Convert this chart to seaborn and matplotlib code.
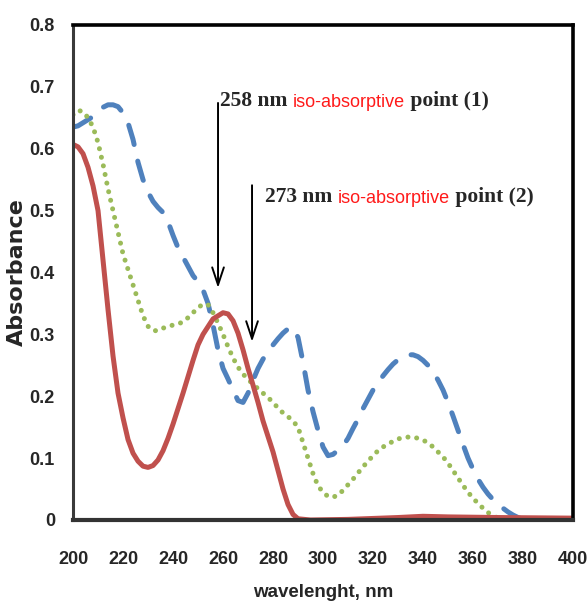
import matplotlib
matplotlib.use("Agg")
import matplotlib.pyplot as plt
import seaborn as sns

# wavelength grids (nm) and absorbance
red_wl = [200, 202, 204, 206, 208, 210, 212, 214, 216, 218, 220, 222, 224, 226, 228,
          230, 232, 234, 236, 238, 240, 244, 248, 250, 252, 256, 260, 262, 264, 266,
          268, 270, 272, 274, 276, 278, 280, 282, 284, 286, 288, 290, 295, 310, 330,
          340, 350, 370, 400]
red_abs = [0.607, 0.603, 0.592, 0.570, 0.540, 0.500, 0.420, 0.340, 0.265, 0.205, 0.165,
           0.130, 0.108, 0.095, 0.087, 0.085, 0.088, 0.097, 0.112, 0.132, 0.155, 0.205,
           0.258, 0.283, 0.300, 0.325, 0.335, 0.333, 0.322, 0.302, 0.275, 0.245, 0.218,
           0.190, 0.160, 0.135, 0.110, 0.080, 0.050, 0.025, 0.009, 0.002, 0.000, 0.001,
           0.004, 0.006, 0.005, 0.004, 0.003]

blue_wl = [200, 202, 204, 206, 208, 210, 212, 214, 216, 218, 220, 222, 224, 226, 228,
           230, 232, 234, 236, 238, 240, 242, 244, 246, 248, 250, 252, 254, 256, 258,
           260, 262, 264, 266, 268, 270, 272, 274, 276, 278, 280, 282, 284, 286, 288,
           290, 292, 294, 296, 298, 300, 302, 304, 306, 308, 310, 312, 314, 316, 318,
           320, 322, 324, 326, 328, 330, 332, 334, 336, 338, 340, 342, 344, 346, 348,
           350, 352, 354, 356, 358, 360, 362, 364, 366, 368, 370, 372, 374, 376, 378, 380]
blue_abs = [0.635, 0.637, 0.642, 0.647, 0.652, 0.660, 0.667, 0.671, 0.671, 0.668, 0.658,
            0.642, 0.615, 0.578, 0.550, 0.530, 0.515, 0.505, 0.497, 0.482, 0.460, 0.440,
            0.425, 0.410, 0.395, 0.385, 0.372, 0.350, 0.315, 0.275, 0.245, 0.228, 0.210,
            0.193, 0.190, 0.205, 0.226, 0.245, 0.260, 0.272, 0.283, 0.293, 0.302, 0.309,
            0.311, 0.295, 0.255, 0.210, 0.175, 0.145, 0.118, 0.104, 0.106, 0.113, 0.120,
            0.132, 0.148, 0.163, 0.180, 0.195, 0.210, 0.222, 0.233, 0.243, 0.252, 0.259,
            0.264, 0.267, 0.267, 0.264, 0.258, 0.250, 0.240, 0.226, 0.210, 0.190, 0.168,
            0.145, 0.122, 0.100, 0.082, 0.066, 0.053, 0.042, 0.033, 0.026, 0.019, 0.013,
            0.008, 0.004, 0.001]

green_wl = [200, 202, 204, 206, 208, 210, 212, 214, 216, 218, 220, 222, 224, 226, 228,
            230, 232, 234, 236, 238, 240, 242, 244, 246, 248, 250, 252, 254, 256, 258,
            260, 262, 264, 266, 268, 270, 272, 274, 276, 278, 280, 282, 284, 286, 288,
            290, 292, 294, 296, 298, 300, 302, 304, 306, 308, 310, 312, 314, 316, 318,
            320, 322, 324, 326, 328, 330, 332, 334, 336, 338, 340, 342, 344, 346, 348,
            350, 352, 354, 356, 358, 360, 362, 364, 366, 368, 370, 372]
green_abs = [0.655, 0.662, 0.660, 0.650, 0.635, 0.610, 0.575, 0.535, 0.500, 0.465, 0.430,
             0.405, 0.380, 0.355, 0.330, 0.313, 0.306, 0.306, 0.310, 0.313, 0.315, 0.317,
             0.320, 0.327, 0.335, 0.343, 0.349, 0.348, 0.335, 0.318, 0.300, 0.280, 0.262,
             0.247, 0.236, 0.227, 0.220, 0.212, 0.205, 0.198, 0.190, 0.181, 0.173, 0.167,
             0.160, 0.150, 0.125, 0.100, 0.075, 0.055, 0.045, 0.038, 0.037, 0.040, 0.048,
             0.057, 0.066, 0.076, 0.086, 0.095, 0.104, 0.112, 0.118, 0.123, 0.127, 0.131,
             0.133, 0.134, 0.134, 0.132, 0.129, 0.125, 0.118, 0.110, 0.102, 0.092, 0.080,
             0.068, 0.056, 0.045, 0.035, 0.027, 0.019, 0.012, 0.007, 0.003, 0.000]

x_ticks = [200, 220, 240, 260, 280, 300, 320, 340, 360, 380, 400]
y_ticks = [0, 0.1, 0.2, 0.3, 0.4, 0.5, 0.6, 0.7, 0.8]
y_tick_labels = ["0", "0.1", "0.2", "0.3", "0.4", "0.5", "0.6", "0.7", "0.8"]

# iso-absorptive points: (label, tail, wavelength, arrow top, arrow tip)
iso_points = [("258 nm", "point (1)", 258, 0.674, 0.375),
              ("273 nm", "point (2)", 271.6, 0.541, 0.288)]

SANS = ["Liberation Sans", "DejaVu Sans"]
SERIF = ["Liberation Serif", "DejaVu Serif"]

sns.set_style("white")

fig = plt.figure(figsize=(5.87, 6.05), dpi=100)
ax = fig.add_axes([0.1244, 0.1405, 0.8518, 0.8182])

sns.lineplot(x=blue_wl, y=blue_abs, ax=ax, color="#4F81BD", linewidth=3.6,
             linestyle=(0, (4.0, 3.4)), dash_capstyle="round", sort=False)
sns.lineplot(x=green_wl, y=green_abs, ax=ax, color="#9BBB59", linewidth=3.6,
             linestyle=(0, (0.01, 1.75)), dash_capstyle="round", sort=False)
sns.lineplot(x=red_wl, y=red_abs, ax=ax, color="#C0504D", linewidth=3.6,
             solid_capstyle="round", sort=False)

ax.set_xlim(200, 400)
ax.set_ylim(0, 0.8)
ax.set_xticks(x_ticks)
ax.set_xticklabels([str(t) for t in x_ticks], family=SANS, fontweight="bold", fontsize=13)
ax.set_yticks(y_ticks)
ax.set_yticklabels(y_tick_labels, family=SANS, fontweight="bold", fontsize=13)
ax.tick_params(axis="x", direction="in", length=7, width=1.2, color="#b0b0b0", pad=22)
ax.tick_params(axis="y", direction="in", length=3, width=1.2, color="#b0b0b0", pad=13)

for side in ["top", "right"]:
    ax.spines[side].set_color("black")
    ax.spines[side].set_linewidth(2.6)
ax.spines["left"].set_color("#3a3a3a")
ax.spines["left"].set_linewidth(2.2)
ax.spines["bottom"].set_color("#333333")
ax.spines["bottom"].set_linewidth(3.0)

ax.set_xlabel("wavelenght, nm", family=SANS, fontweight="bold", fontsize=13.5)
ax.set_ylabel("Absorbance", family="DejaVu Sans", fontweight="bold", fontsize=16)
ax.xaxis.set_label_coords(0.5, -0.13)
ax.yaxis.set_label_coords(-0.092, 0.5)

# arrows and labels for the iso-absorptive points
text_x = [258.8, 276.8]
text_y = [0.669, 0.514]
for (lead, tail, wl, top, tip), tx, ty in zip(iso_points, text_x, text_y):
    ax.annotate("", xy=(wl, tip), xytext=(wl, top),
                arrowprops=dict(arrowstyle="->,head_length=0.9,head_width=0.3",
                                lw=1.4, color="black", mutation_scale=14,
                                shrinkA=0, shrinkB=0))
    t1 = ax.text(tx, ty, lead + " ", family=SERIF, fontweight="bold", fontsize=15.5,
                 va="baseline", ha="left")
    t2 = ax.annotate("iso-absorptive", xy=(1, 0), xycoords=t1, family=SANS,
                     fontsize=13, color="#ff1a1a", va="bottom", ha="left")
    ax.annotate(" " + tail, xy=(1, 0), xycoords=t2, family=SERIF, fontweight="bold",
                fontsize=15.5, va="bottom", ha="left")

fig.savefig("out.png", dpi=100)
